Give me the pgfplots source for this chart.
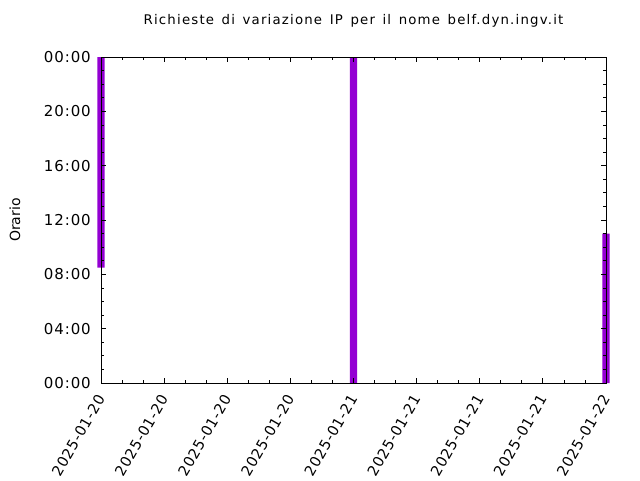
\documentclass[border=0pt]{standalone}
\usepackage{fontspec}
\setmainfont{DejaVu Sans}
\newfontfamily\titlefont[LetterSpace=9,WordSpace=1.4]{DejaVu Sans}
\newfontfamily\xtfont[LetterSpace=5]{DejaVu Sans}
\newfontfamily\ytfont[LetterSpace=6]{DejaVu Sans}
\usepackage{pgfplots}
\pgfplotsset{compat=1.18}
\definecolor{barcol}{HTML}{9400D3}
\begin{document}
\begin{tikzpicture}[x=1pt,y=1pt]
\useasboundingbox (0,0) rectangle (640,480);
\begin{axis}[
  at={(101pt,97pt)}, anchor=south west,
  scale only axis, width=505pt, height=326pt,
  xmin=0, xmax=48, ymin=0, ymax=24,
  clip=false, axis on top,
  ybar stacked, bar width=0.67,
  xtick={0,6,12,18,24,30,36,42,48},
  xticklabels={2025-01-20,2025-01-20,2025-01-20,2025-01-20,2025-01-21,2025-01-21,2025-01-21,2025-01-21,2025-01-22},
  ytick={0,4,8,12,16,20,24},
  yticklabels={00:00,04:00,08:00,12:00,16:00,20:00,00:00},
  minor x tick num=2, minor y tick num=3,
  major tick length=5pt, minor tick length=3pt,
  tick style={black, line width=0.8pt},
  axis line style={line width=0.9pt},
  /pgf/number format/assume math mode=true,
  yticklabel style={font=\ytfont\fontsize{15}{17}\selectfont, anchor=east, inner sep=0pt, xshift=-10pt},
  xticklabel style={font=\xtfont\fontsize{14.5}{16}\selectfont, xshift=0pt, yshift=-13pt, rotate=60, anchor=east, inner sep=0pt},
  title={Richieste di variazione IP per il nome belf.dyn.ingv.it},
  title style={font=\titlefont\fontsize{13.3}{16}\selectfont, at={(axis description cs:0.5,1)}, anchor=center, yshift=30pt},
  ylabel={Orario},
  ylabel style={font=\fontsize{14}{16}\selectfont, at={(axis description cs:-0.1703,0.5)}, anchor=center, rotate=0},
]
\addplot[draw=none, fill=none] coordinates {(0,8.5) (24,0) (48,0)};
\addplot[fill=barcol, draw=none] coordinates {(0,15.5) (24,24) (48,11)};
\end{axis}
\end{tikzpicture}
\end{document}
